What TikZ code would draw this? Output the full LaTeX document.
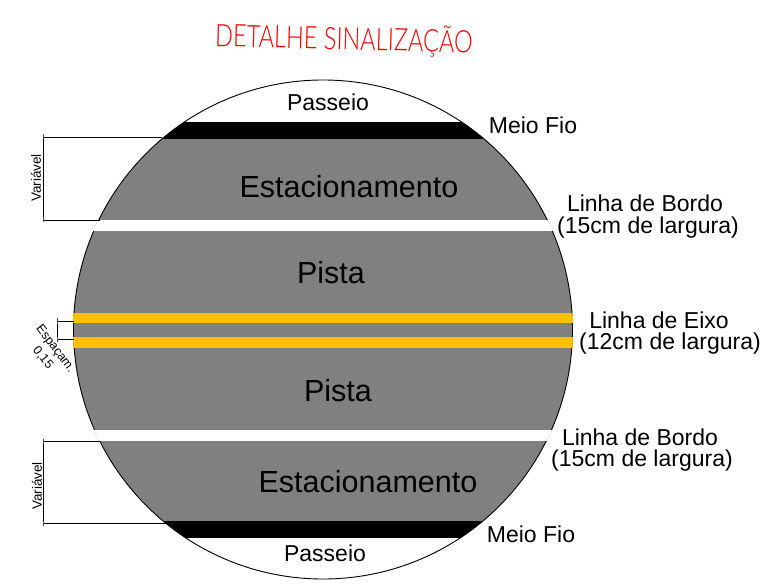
\documentclass[tikz,border=0pt]{standalone}
\usepackage{fontspec}
\setmainfont{Liberation Sans}
\newfontfamily\titlefont{Lato Light}
\definecolor{pista}{HTML}{808080}
\definecolor{eixo}{HTML}{FFC000}
\tikzset{
    rotulo/.style={inner sep=0pt, font=\fontsize{23}{25}\selectfont},
    area/.style={inner sep=0pt, font=\fontsize{30.5}{32}\selectfont},
    cota/.style={inner sep=0pt, font=\fontsize{13.5}{15}\selectfont},
    espaco/.style={inner sep=0pt, font=\fontsize{12.5}{14}\selectfont},
    linhacota/.style={line width=0.8pt, black}
}
\begin{document}
\begin{tikzpicture}[x=1pt, y=-1pt]
    \useasboundingbox (0,0) rectangle (779,585);

    % Center of the circle
    \def\xc{323}
    \def\yc{329.5}
    \def\r{249.5}
    \coordinate (center) at (\xc, \yc);

    % Road surface
    \fill[pista] (center) circle (\r);

    % Curbs
    \begin{scope}
        \clip (center) circle (\r);
        \fill[white] (0, 0) rectangle (779, 122);
        \fill[white] (0, 538) rectangle (779, 585);
        \foreach \ya/\yb in {122/139, 521/538}
            \fill[black] (0, \ya) rectangle (779, \yb);
    \end{scope}

    \draw[line width=0.9pt, black] (center) circle (\r);

    % Painted lines
    \begin{scope}
        \clip (center) circle (\r+0.6);
        \foreach \ya/\yb in {220/231, 430/441}
            \fill[white] (0, \ya) rectangle (779, \yb);
        \foreach \ya/\yb in {313/323, 337/348}
            \fill[eixo] (0, \ya) rectangle (779, \yb);
    \end{scope}

    % Dimension lines
    \draw[linhacota] (162, 137) -- (43, 137) -- (43, 220) -- (100, 220);
    \draw[linhacota] (100, 441) -- (43, 441) -- (43, 523.5) -- (167, 523.5);
    \draw[linhacota] (74, 321) -- (57.5, 321) -- (57.5, 339.5) -- (74, 339.5);
    \foreach \xa/\ya in {43/137, 43/220, 43/441, 43/523.5, 57.5/321, 57.5/339.5}
        \draw[line width=0.5pt, black!70] (\xa, \ya-2.5) -- (\xa, \ya+2.5);

    % Title
    \node[red, inner sep=0pt, rotate=-1.5, xscale=0.76] (titulo) at (344, 39)
        {\titlefont\fontsize{31}{33}\selectfont DETALHE SINALIZAÇÃO};

    % Labels on the road
    \node[rotulo] (passeioa) at (328, 102) {Passeio};
    \node[rotulo] (passeiob) at (325, 553) {Passeio};
    \node[area] (estaca) at (349, 187) {Estacionamento};
    \node[area] (estacb) at (368, 482) {Estacionamento};
    \node[area] (pistaa) at (331, 273) {Pista};
    \node[area] (pistab) at (338, 391) {Pista};

    % Labels on the right
    \node[rotulo] (fioa) at (533, 125) {Meio Fio};
    \node[rotulo] (fiob) at (531, 534) {Meio Fio};
    \node[rotulo] (bordoa) at (645, 203) {Linha de Bordo};
    \node[rotulo] (bordoalarg) at (648, 227.5) {(15cm de largura)};
    \node[rotulo] (eixotxt) at (659, 320) {Linha de Eixo};
    \node[rotulo] (eixolarg) at (670, 344) {(12cm de largura)};
    \node[rotulo] (bordob) at (640, 437) {Linha de Bordo};
    \node[rotulo] (bordoblarg) at (642, 460.5) {(15cm de largura)};

    % Labels on the dimension lines
    \node[cota, rotate=90] (varia) at (36, 178) {Variável};
    \node[cota, rotate=90] (varib) at (37, 486) {Variável};
    \node[espaco, rotate=-53] (espacam) at (55, 349) {Espaçam.};
    \node[espaco, rotate=-50] (espacob) at (43, 358) {0,15};
\end{tikzpicture}
\end{document}
